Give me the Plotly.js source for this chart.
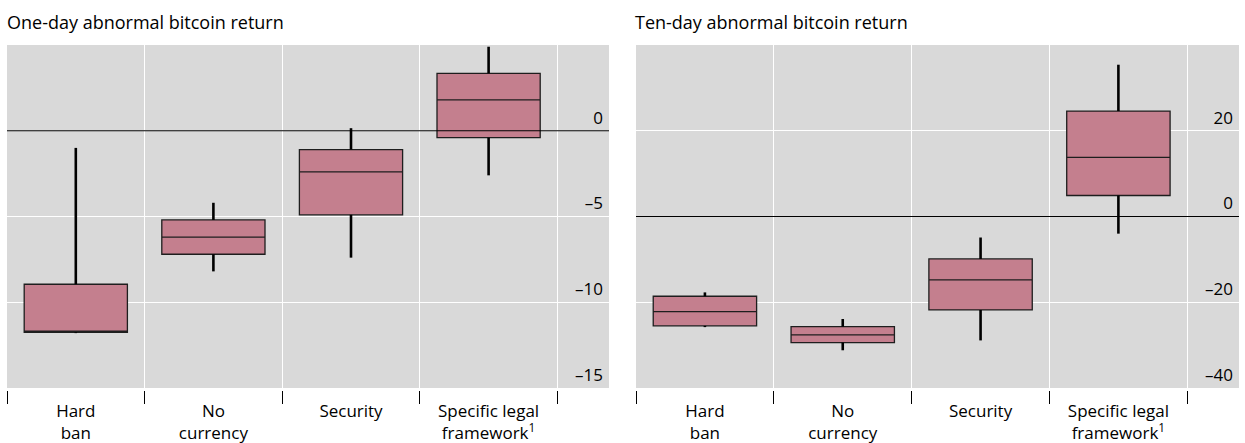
<!DOCTYPE html>
<html>
<head>
<meta charset="utf-8">
<script src="https://cdn.plot.ly/plotly-3.0.1.min.js"></script>
<style>html,body{margin:0;padding:0;background:#fff;}#chart{width:1245px;height:443px;}</style>
</head>
<body>
<div id="chart"></div>
<script>
// Categories (tick labels)
const categories = ["Hard<br>ban", "No<br>currency", "Security", "Specific legal<br>framework<sup>1</sup>"];

// One-day abnormal bitcoin return (%)
const oneDayLower  = [-11.8, -8.2, -7.4, -2.6];
const oneDayQ1     = [-11.75, -7.2, -4.9, -0.4];
const oneDayMedian = [-11.75, -6.2, -2.4, 1.8];
const oneDayQ3     = [-8.95, -5.2, -1.1, 3.35];
const oneDayUpper  = [-1.0, -4.2, 0.15, 4.9];

// Ten-day abnormal bitcoin return (%)
const tenDayLower  = [-25.8, -31.2, -28.9, -4.0];
const tenDayQ1     = [-25.5, -29.4, -21.8, 4.9];
const tenDayMedian = [-22.2, -27.6, -14.8, 13.8];
const tenDayQ3     = [-18.6, -25.7, -9.9, 24.6];
const tenDayUpper  = [-17.7, -23.9, -4.9, 35.4];

// Y-axis ticks
const oneDayTickVals = [-15, -10, -5, 0];
const oneDayTickText = ["–15", "–10", "–5", "0"];
const tenDayTickVals = [-40, -20, 0, 20];
const tenDayTickText = ["–40", "–20", "0", "20"];

const titles = ["One-day abnormal bitcoin return", "Ten-day abnormal bitcoin return"];

const FONT = "Open Sans, Noto Sans, sans-serif";
const BOX_FILL = "#c47f8e";

function whiskerY(lower, q1, q3, upper) {
  const y = [], x = [];
  for (let i = 0; i < categories.length; i++) {
    x.push(categories[i], categories[i], null, categories[i], categories[i], null);
    y.push(q3[i], upper[i], null, q1[i], lower[i], null);
  }
  return {x, y};
}

function boxTrace(q1, med, q3, xa, ya) {
  return {
    type: "box", x: categories, q1: q1, median: med, q3: q3,
    lowerfence: q1, upperfence: q3,
    xaxis: xa, yaxis: ya, width: 0.75, whiskerwidth: 0,
    fillcolor: BOX_FILL, line: {color: "#1e1e1e", width: 1.3},
    boxpoints: false, hoverinfo: "skip", showlegend: false
  };
}
function whiskerTrace(lo, q1, q3, hi, xa, ya) {
  const w = whiskerY(lo, q1, q3, hi);
  return {
    type: "scatter", mode: "lines", x: w.x, y: w.y, xaxis: xa, yaxis: ya,
    line: {color: "#000", width: 2.6}, hoverinfo: "skip", showlegend: false, connectgaps: false
  };
}

const data = [
  whiskerTrace(oneDayLower, oneDayQ1, oneDayQ3, oneDayUpper, "x", "y"),
  boxTrace(oneDayQ1, oneDayMedian, oneDayQ3, "x", "y"),
  whiskerTrace(tenDayLower, tenDayQ1, tenDayQ3, tenDayUpper, "x2", "y2"),
  boxTrace(tenDayQ1, tenDayMedian, tenDayQ3, "x2", "y2")
];

const W = 1245, H = 443;
const yDom = [(H - 388) / H, (H - 45) / H];
const axPos = (H - 390) / H;

function xAxis(domain) {
  return {
    domain: domain, type: "category", range: [-0.5, 3.875], anchor: "free", position: axPos,
    tickson: "boundaries", showgrid: true, gridcolor: "#ffffff", gridwidth: 1,
    ticks: "outside", ticklen: 13, tickcolor: "#000", tickwidth: 1, ticklabelstandoff: 9,
    showline: false, zeroline: false, fixedrange: true,
    tickfont: {family: FONT, size: 17, color: "#000"}
  };
}
function yAxis(anchor, range, vals, text) {
  return {
    domain: yDom, anchor: anchor, side: "right", range: range,
    tickmode: "array", tickvals: vals, ticktext: text,
    ticklabelposition: "inside", ticklabelshift: -13, ticklabelstandoff: 3, ticks: "",
    showgrid: true, gridcolor: "#ffffff", gridwidth: 1,
    zeroline: false,
    showline: false, fixedrange: true,
    tickfont: {family: FONT, size: 17, color: "#000"}
  };
}

function zeroLine(xa, ya) {
  return {type: "line", xref: xa + " domain", yref: ya, x0: 0, x1: 1, y0: 0, y1: 0,
          line: {color: "#000", width: 1}, layer: "above"};
}

const layout = {
  width: W, height: H,
  margin: {l: 0, r: 0, t: 0, b: 0},
  paper_bgcolor: "#ffffff", plot_bgcolor: "#d9d9d9",
  showlegend: false,
  xaxis: xAxis([7 / W, 609 / W]),
  xaxis2: xAxis([636 / W, 1239 / W]),
  yaxis: yAxis("x", [-15, 5], oneDayTickVals, oneDayTickText),
  yaxis2: yAxis("x2", [-40, 40], tenDayTickVals, tenDayTickText),
  shapes: [zeroLine("x", "y"), zeroLine("x2", "y2")],
  annotations: [
    {text: titles[0], xref: "paper", yref: "paper", x: 5 / W, y: 1 - 22 / H, xanchor: "left", yanchor: "middle", showarrow: false, font: {family: FONT, size: 18, color: "#000"}},
    {text: titles[1], xref: "paper", yref: "paper", x: 633 / W, y: 1 - 22 / H, xanchor: "left", yanchor: "middle", showarrow: false, font: {family: FONT, size: 18, color: "#000"}}
  ]
};

Plotly.newPlot("chart", data, layout, {displayModeBar: false, staticPlot: true});
</script>
</body>
</html>
